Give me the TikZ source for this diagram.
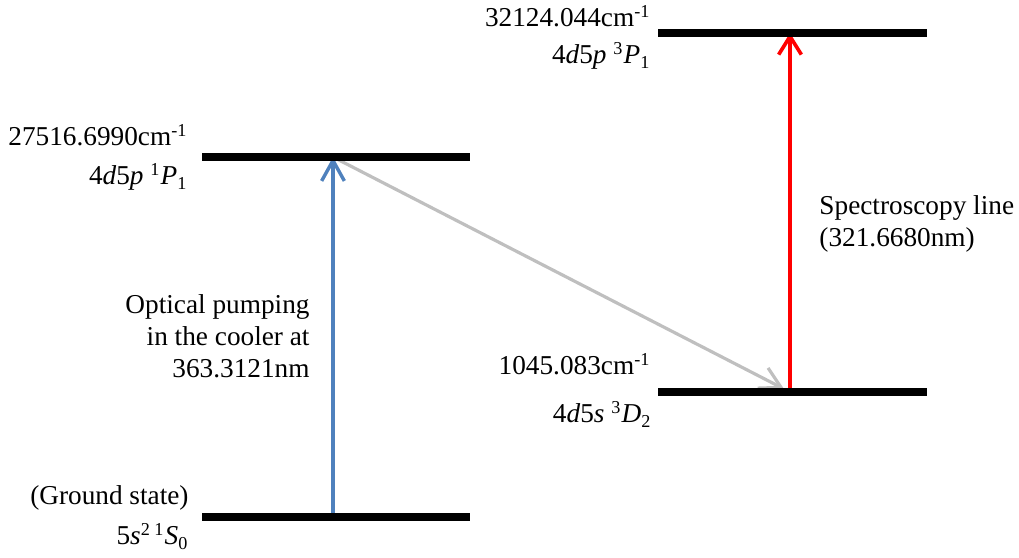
\documentclass[tikz,border=0pt]{standalone}
\usepackage{fontspec}
\setmainfont{Liberation Serif}
\usetikzlibrary{arrows.meta}

\definecolor{pumpblue}{RGB}{79,129,189}
\definecolor{decaygray}{RGB}{191,191,191}

\begin{document}
\begin{tikzpicture}[
        x=0.44pt, y=-0.44pt,
        every node/.style={font=\rmfamily\fontsize{12}{14}\selectfont, inner sep=0pt},
        level/.style={line width=3.6pt},
        pump/.style={draw=pumpblue, line width=1.5pt, -{Straight Barb[length=9pt, width=10pt]}},
        decay/.style={draw=decaygray, line width=1.4pt, -{Straight Barb[length=9pt, width=10pt]}},
        spec/.style={draw=red, line width=1.6pt, -{Straight Barb[length=8pt, width=10pt]}}
    ]

    % Frame
    \useasboundingbox (0,0) rectangle (1019,558);

    % Points on the levels
    \coordinate (gnd) at (333,517);
    \coordinate (pone) at (333,157);
    \coordinate (dtwo) at (790,392);
    \coordinate (pthree) at (790,33);

    % Transitions
    \draw[pump] (gnd) -- (pone);
    \draw[decay, shorten >=3pt] (pone) -- (dtwo);
    \draw[spec] (dtwo) -- (pthree);

    % Levels
    \draw[level] (202,517) -- (470,517);
    \draw[level] (202,157) -- (470,157);
    \draw[level] (658,392) -- (927,392);
    \draw[level] (658,33) -- (927,33);

    % Level labels
    \node[anchor=base east] (gndE) at (189,505) {(Ground state)};
    \node[anchor=base east] (gndT) at (189,545) {5\textit{s}\textsuperscript{2 1}\textit{S}\textsubscript{0}};
    \node[anchor=base east] (poneE) at (188,146) {27516.6990cm\textsuperscript{-1}};
    \node[anchor=base east] (poneT) at (188,185) {4\textit{d}5\textit{p} \textsuperscript{1}\textit{P}\textsubscript{1}};
    \node[anchor=base east] (dtwoE) at (651,375) {1045.083cm\textsuperscript{-1}};
    \node[anchor=base east] (dtwoT) at (652,423) {4\textit{d}5\textit{s} \textsuperscript{3}\textit{D}\textsubscript{2}};
    \node[anchor=base east] (pthreeE) at (651,27) {32124.044cm\textsuperscript{-1}};
    \node[anchor=base east] (pthreeT) at (651,64) {4\textit{d}5\textit{p} \textsuperscript{3}\textit{P}\textsubscript{1}};

    % Transition labels
    \node[anchor=north east, align=right] (pumpL) at (310,294)
        {Optical pumping\\in the cooler at\\363.3121nm};
    \node[anchor=north west, align=left] (specL) at (819,195)
        {Spectroscopy line\\(321.6680nm)};

\end{tikzpicture}
\end{document}
